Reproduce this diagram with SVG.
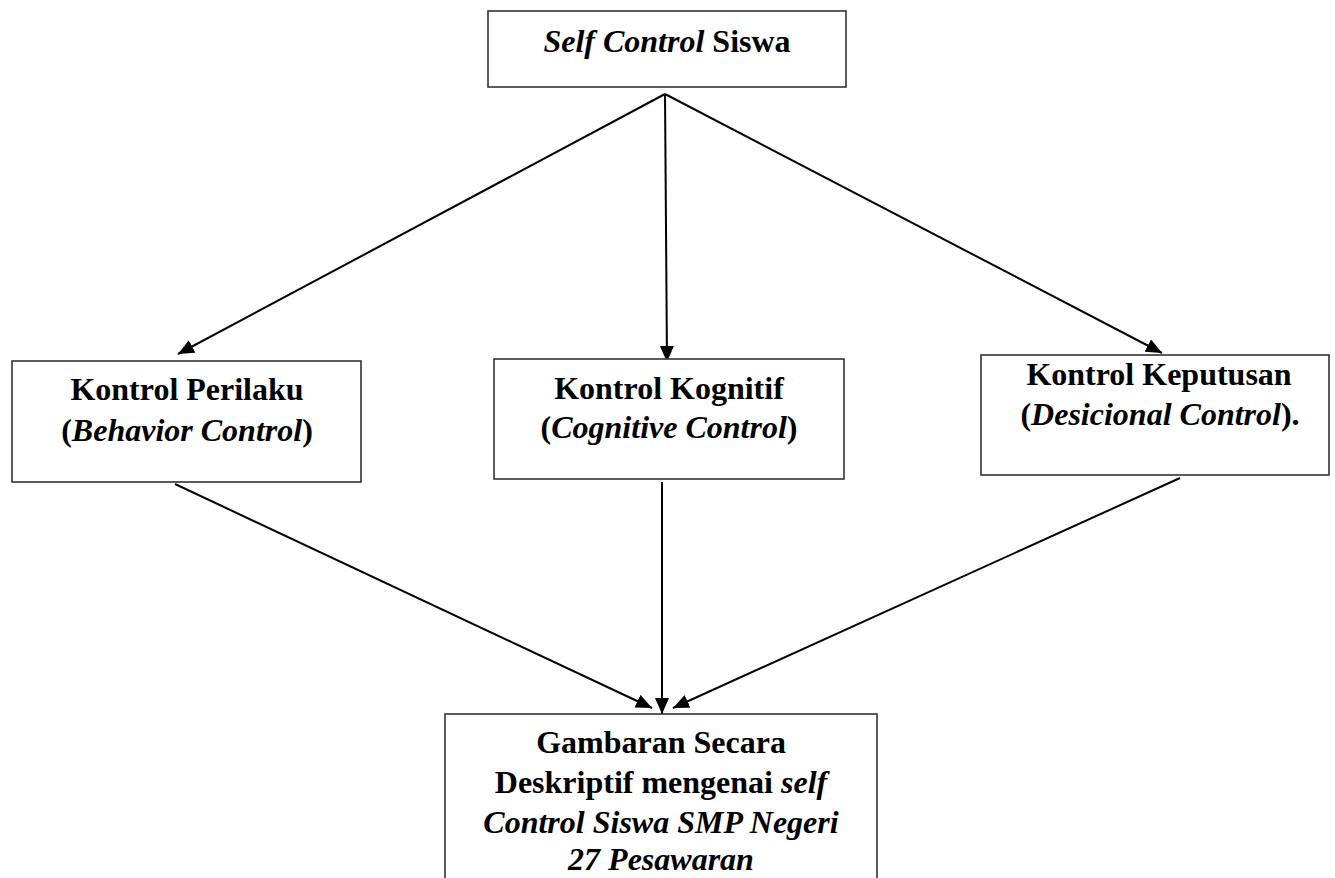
<svg xmlns="http://www.w3.org/2000/svg" width="1335" height="878" viewBox="0 0 1335 878">
<style>
.box{fill:#fff;stroke:#333;stroke-width:1.6}
.t{font-family:"Liberation Serif","Times New Roman",serif;font-size:32px;font-weight:bold;fill:#000;text-anchor:middle}
.i{font-style:italic}
.c{stroke:#000;stroke-width:2;fill:none;marker-end:url(#ah)}
</style>
<defs>
<marker id="ah" markerUnits="userSpaceOnUse" markerWidth="18" markerHeight="16" refX="16" refY="7" orient="auto">
<path d="M0,0 L16,7 L0,14 Z" fill="#000"/>
</marker>
</defs>
<rect width="1335" height="878" fill="#fff"/>
<g id="connectors">
<line class="c" x1="665" y1="94" x2="178" y2="354"/>
<line class="c" x1="665" y1="94" x2="667" y2="362"/>
<line class="c" x1="665" y1="94" x2="1162" y2="353"/>
<line class="c" x1="175" y1="484" x2="652" y2="708"/>
<line class="c" x1="662" y1="482" x2="662" y2="714"/>
<line class="c" x1="1180" y1="478" x2="673" y2="708"/>
</g>
<g id="top">
<rect class="box" x="488" y="11" width="358" height="76"/>
<text class="t" x="667" y="52"><tspan class="i">Self Control</tspan> Siswa</text>
</g>
<g id="perilaku">
<rect class="box" x="12" y="361" width="349" height="121"/>
<text class="t" x="187" y="400">Kontrol Perilaku</text>
<text class="t" x="187" y="441">(<tspan class="i">Behavior Control</tspan>)</text>
</g>
<g id="kognitif">
<rect class="box" x="494" y="359" width="350" height="120"/>
<text class="t" x="669" y="399">Kontrol Kognitif</text>
<text class="t" x="669" y="438">(<tspan class="i">Cognitive Control</tspan>)</text>
</g>
<g id="keputusan">
<rect class="box" x="981" y="355" width="348" height="120"/>
<text class="t" x="1159" y="385">Kontrol Keputusan</text>
<text class="t" x="1160" y="425">(<tspan class="i">Desicional Control</tspan>).</text>
</g>
<g id="gambaran">
<rect class="box" x="445" y="714" width="432" height="180"/>
<text class="t" x="661" y="753">Gambaran Secara</text>
<text class="t" x="661" y="793">Deskriptif mengenai <tspan class="i">self</tspan></text>
<text class="t i" x="661" y="833">Control Siswa SMP Negeri</text>
<text class="t i" x="661" y="870">27 Pesawaran</text>
</g>
</svg>
